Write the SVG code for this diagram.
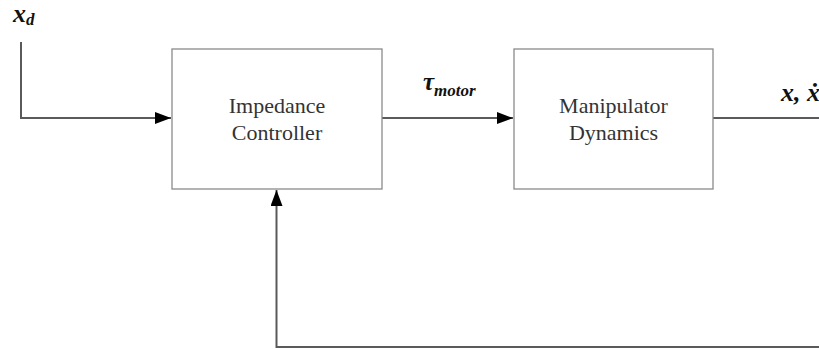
<svg xmlns="http://www.w3.org/2000/svg" width="819" height="349" viewBox="0 0 819 349">
<style>
.box{fill:#fff;stroke:#8a8a8a;stroke-width:1.3}
.wire{fill:none;stroke:#5a5a5a;stroke-width:2}
.lbl{font-family:"Liberation Serif","Times New Roman",serif;font-size:22px;fill:#333;text-anchor:middle}
.math{font-family:"Liberation Serif","Times New Roman",serif;font-weight:bold;font-style:italic;fill:#111}
</style>
<defs>
<marker id="arr" markerWidth="16" markerHeight="12" refX="16" refY="6" orient="auto" markerUnits="userSpaceOnUse">
<path d="M0,0 L16,6 L0,12 Z" fill="#000"/>
</marker>
</defs>
<g id="connectors">
<path class="wire" d="M21,42 V118 H171" marker-end="url(#arr)"/>
<path class="wire" d="M382,118 H513" marker-end="url(#arr)"/>
<path class="wire" d="M713,118 H819"/>
<path class="wire" d="M819,347 H276.5 V190" marker-end="url(#arr)"/>
</g>
<g id="impedance-controller">
<rect class="box" x="172" y="49" width="210" height="140"/>
<text class="lbl" x="277" y="113">Impedance</text>
<text class="lbl" x="277" y="140">Controller</text>
</g>
<g id="manipulator-dynamics">
<rect class="box" x="514" y="49" width="199" height="140"/>
<text class="lbl" x="613.5" y="113">Manipulator</text>
<text class="lbl" x="613.5" y="140">Dynamics</text>
</g>
<g id="labels">
<text class="math" x="13" y="22" font-size="26">x<tspan font-size="17" dy="3">d</tspan></text>
<text class="math" x="423" y="90" font-size="25">τ<tspan font-size="17" dy="6">motor</tspan></text>
<text class="math" x="781" y="101" font-size="26">x, ẋ</text>
</g>
</svg>
